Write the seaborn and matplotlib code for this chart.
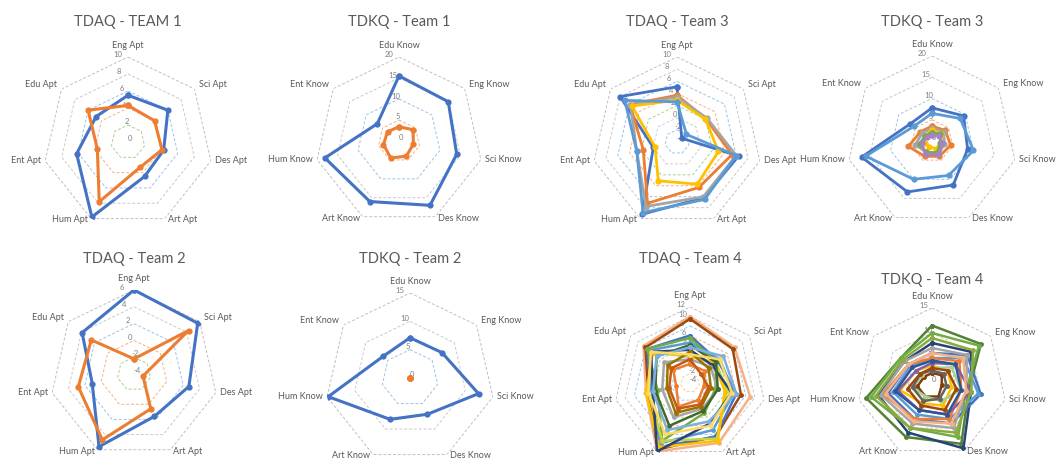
import numpy as np
import pandas as pd
import matplotlib
matplotlib.use("Agg")
import matplotlib.pyplot as plt
import seaborn as sns

sns.set_theme(style="white")
plt.rcParams['font.family'] = ['Lato', 'DejaVu Sans']

W, H = 1059, 462

APT_AXES = ["Eng Apt", "Sci Apt", "Des Apt", "Art Apt", "Hum Apt", "Ent Apt", "Edu Apt"]
KNOW_AXES = ["Edu Know", "Eng Know", "Sci Know", "Des Know", "Art Know", "Hum Know", "Ent Know"]

# ---------- data ----------
# TDAQ - TEAM 1
t1_apt_blue = [5.5, 6.0, 4.3, 4.5, 9.8, 6.2, 4.8]
t1_apt_orange = [4.3, 4.0, 4.1, 3.3, 7.8, 3.7, 6.0]
# TDKQ - Team 1
t1_know_blue = [15.5, 15.0, 14.1, 17.0, 16.0, 18.1, 6.6]
t1_know_orange = [3.4, 4.3, 3.5, 4.0, 4.5, 3.8, 3.5]
# TDAQ - Team 3
t3_apt_blue = [5.1, -3.0, 6.4, 6.2, 9.2, 0.0, 8.0]
t3_apt_orange = [3.7, 2.1, 5.3, 4.3, 7.2, 1.7, 5.9]
t3_apt_gray = [3.4, 2.3, 6.0, 6.0, 7.8, 2.8, 5.8]
t3_apt_gold = [2.9, 2.0, 3.0, 3.7, 3.1, -0.3, 5.5]
t3_apt_lblue = [2.6, -2.0, 6.0, 6.5, 8.9, 2.8, 7.0]
# TDKQ - Team 3
t3_know_blue = [7.8, 9.5, 8.6, 11.5, 13.3, 17.0, 6.5]
t3_know_orange = [3.5, 4.0, 4.5, 4.0, 4.0, 5.7, 3.5]
t3_know_gray = [3.0, 3.5, 3.0, 3.5, 3.0, 4.0, 3.0]
t3_know_gold = [2.5, 2.8, 2.2, 2.0, 1.5, 1.8, 2.0]
t3_know_lblue = [6.5, 8.5, 10.0, 9.0, 10.0, 16.0, 5.5]
t3_know_green = [2.0, 2.5, 2.0, 3.0, 3.0, 3.0, 2.0]
t3_know_purple = [1.5, 2.0, 2.5, 3.5, 3.5, 2.5, 1.5]
# TDAQ - Team 2
t2_apt_blue = [6.0, 5.7, 2.7, 1.6, 5.6, 1.1, 3.9]
t2_apt_orange = [-2.2, 4.3, -2.9, 0.6, 4.7, 2.8, 2.5]
# TDKQ - Team 2
t2_know_blue = [7.1, 7.2, 12.4, 7.1, 8.1, 14.8, 6.1]
t2_know_orange = [0, 0, 0, 0, 0, 0, 0]
# TDAQ - Team 4
t4_apt = {
    "m1": [10, 8, 9, 10, 12, 5.5, 8.5],
    "m2": [9.5, 7.5, 7, 8.5, 11.5, 5, 8],
    "m3": [6, 3.5, 6, 8.5, 11, 4.5, 7.5],
    "m4": [4.5, 4, 5.5, 7, 10, 4.5, 7],
    "m5": [5.5, 3, 1.5, 3, 9.5, 3, 7.5],
    "m6": [1.5, 3, 4, 9, 9.5, 5, 6.5],
    "m7": [2, 2.5, 3.5, 9.5, 11, 5.5, 6],
    "m8": [3, 2, 5, 5.5, 12, 4, 6.5],
    "m9": [0, 0, -1, 0, 1.5, -1, 0.5],
    "m10": [1, 1.5, 2, 2, 4, 2, 3],
    "m11": [2.5, 1, 0.5, 1.5, 3, 1, 2],
    "m12": [4, 3, 2, 2.5, 6, 3.5, 5],
    "m13": [1, -1, 0, 1, 2, 0.5, 1],
    "m14": [3.5, 5, 6, 5, 7, 4, 5],
    "m15": [2, 4, 5, 6, 8, 5, 6.5],
}
t4_apt_colors = ["#F4B183", "#9E480E", "#4472C4", "#5B9BD5", "#70AD47", "#C5D43F",
                 "#FFC000", "#264478", "#ED7D31", "#A5A5A5", "#997300", "#43682B",
                 "#C55A11", "#7CAFDD", "#FFD966"]
# TDKQ - Team 4
t4_know = {
    "m1": [11.5, 12.5, 7.5, 13.5, 12, 13.5, 8],
    "m2": [8, 10, 8, 14.5, 11, 11, 7],
    "m3": [10, 12, 7, 12, 10, 12.5, 8],
    "m4": [6, 9, 10, 9, 8, 9, 6],
    "m5": [5, 8, 9.5, 8, 7, 8, 5.5],
    "m6": [3.5, 4, 4, 5, 4.5, 6.5, 4],
    "m7": [5, 7, 6, 8, 8, 10, 6],
    "m8": [7, 9, 7, 10, 9, 10.5, 7],
    "m9": [4, 6, 8, 7, 6, 7, 4],
    "m10": [2, 2.5, 2, 3, 3, 3, 2],
    "m11": [3, 5, 6, 4, 3, 4, 2.5],
    "m12": [2.5, 3, 3, 3.5, 4, 4, 3],
    "m13": [9, 10.5, 8, 11, 10, 11.5, 7.5],
    "m14": [6, 8, 7, 9, 8.5, 9.5, 6],
    "m15": [4.5, 6, 6, 7, 6, 7.5, 5],
    "m16": [3, 4, 5, 6, 5, 5, 3],
}
t4_know_colors = ["#548235", "#264478", "#70AD47", "#4472C4", "#5B9BD5", "#FFC000",
                  "#ED7D31", "#A5A5A5", "#7F60A8", "#843C0C", "#A9D18E", "#636363",
                  "#8FAA3C", "#F4B183", "#2F5597", "#9E480E"]

RING_COLORS = ["#BFBFBF", "#C9C9C9", "#9DC3E6", "#F4B183", "#A9D18E", "#D0CECE", "#9DC3E6", "#F8CBAD"]
TEXT = "#595959"

fig = plt.figure(figsize=(W / 100, H / 100), dpi=100)


def radar(cx, cy, R, title, ty, cats, names, values, colors, rmin, rmax, step,
          lw=2.2, ms=4.5):
    ax = fig.add_axes([(cx - R) / W, 1 - (cy + R) / H, 2 * R / W, 2 * R / H],
                      projection="polar")
    ax.set_theta_zero_location("N")
    ax.set_theta_direction(-1)
    n = len(cats)
    ang = np.arange(n) * 2 * np.pi / n
    rows = []
    for name, vals in zip(names, values):
        for j, i in enumerate(list(range(n)) + [0]):
            th = ang[i] + (2 * np.pi if j == n else 0)
            rows.append({"series": name, "theta": th, "value": vals[i]})
    df = pd.DataFrame(rows)
    ticks = np.arange(rmin, rmax + 0.001, step)
    closed = np.append(ang, 2 * np.pi)
    # heptagonal gridlines
    for k, t in enumerate(ticks[::-1][:-1]):
        ax.plot(closed, [t] * (n + 1), ls=(0, (3, 2)), lw=0.7,
                color=RING_COLORS[k % len(RING_COLORS)], zorder=0.5)
    sns.lineplot(data=df, x="theta", y="value", hue="series", hue_order=names,
                 palette=colors, sort=False, estimator=None, marker="o",
                 markersize=ms, markeredgewidth=0, linewidth=lw, legend=False, ax=ax)
    ax.set_xlabel("")
    ax.set_ylabel("")
    ax.set_ylim(rmin, rmax)
    ax.set_xticks([])
    ax.set_yticks(ticks)
    ax.set_yticklabels([f"{int(t)}" if t >= 0 else f"-{int(-t)}" for t in ticks],
                       fontsize=5.5, color="#7F7F7F")
    ax.set_rlabel_position(350)
    ax.grid(False)
    ax.spines["polar"].set_visible(False)
    ax.set_facecolor("none")
    offs = [((0, 5), "center", "bottom"), ((3, 3), "left", "center"),
            ((3, 0), "left", "center"), ((2, -1), "left", "center"),
            ((-2, -1), "right", "center"), ((-3, 0), "right", "center"),
            ((-3, 3), "right", "center")]
    for i, lab in enumerate(cats):
        (dx, dy), ha, va = offs[i]
        ax.annotate(lab, xy=(ang[i], rmax), xytext=(dx, dy), textcoords="offset points",
                    ha=ha, va=va, fontsize=6.5, color=TEXT, annotation_clip=False)
    fig.text(cx / W, 1 - ty / H, title, ha="center", va="center", fontsize=10.5, color=TEXT)
    return ax


BLUE, ORANGE, GRAY, GOLD, LBLUE, GREEN = "#4472C4", "#ED7D31", "#A5A5A5", "#FFC000", "#5B9BD5", "#70AD47"

radar(128, 142, 85, "TDAQ - TEAM 1", 22, APT_AXES, ["a", "b"],
      [t1_apt_blue, t1_apt_orange], [BLUE, ORANGE], 0, 10, 2)
radar(399, 141, 84, "TDKQ - Team 1", 22, KNOW_AXES, ["a", "b"],
      [t1_know_blue, t1_know_orange], [BLUE, ORANGE], 0, 20, 5)
radar(677, 142, 85, "TDAQ - Team 3", 22, APT_AXES, ["a", "b", "c", "d", "e"],
      [t3_apt_blue, t3_apt_orange, t3_apt_gray, t3_apt_gold, t3_apt_lblue],
      [BLUE, ORANGE, GRAY, GOLD, LBLUE], -4, 10, 2, lw=2.0)
radar(932, 141, 85, "TDKQ - Team 3", 22, KNOW_AXES, ["a", "b", "c", "d", "e", "f", "g"],
      [t3_know_blue, t3_know_orange, t3_know_gray, t3_know_gold, t3_know_lblue,
       t3_know_green, t3_know_purple],
      [BLUE, ORANGE, GRAY, GOLD, LBLUE, GREEN, "#A682C4"], 0, 20, 5, lw=2.0)
radar(134, 374, 84, "TDAQ - Team 2", 259, APT_AXES, ["a", "b"],
      [t2_apt_blue, t2_apt_orange], [BLUE, ORANGE], -4, 6, 2)
radar(410, 378, 85, "TDKQ - Team 2", 259, KNOW_AXES, ["a", "b"],
      [t2_know_blue, t2_know_orange], [BLUE, ORANGE], 0, 15, 5)
radar(690, 383, 76, "TDAQ - Team 4", 259, APT_AXES, list(t4_apt.keys()),
      list(t4_apt.values()), t4_apt_colors, -4, 12, 2, lw=1.8, ms=3.5)
radar(932, 383, 75, "TDKQ - Team 4", 280, KNOW_AXES, list(t4_know.keys()),
      list(t4_know.values()), t4_know_colors, 0, 15, 5, lw=1.8, ms=3.5)

fig.savefig("out.png", dpi=100, facecolor="white")
